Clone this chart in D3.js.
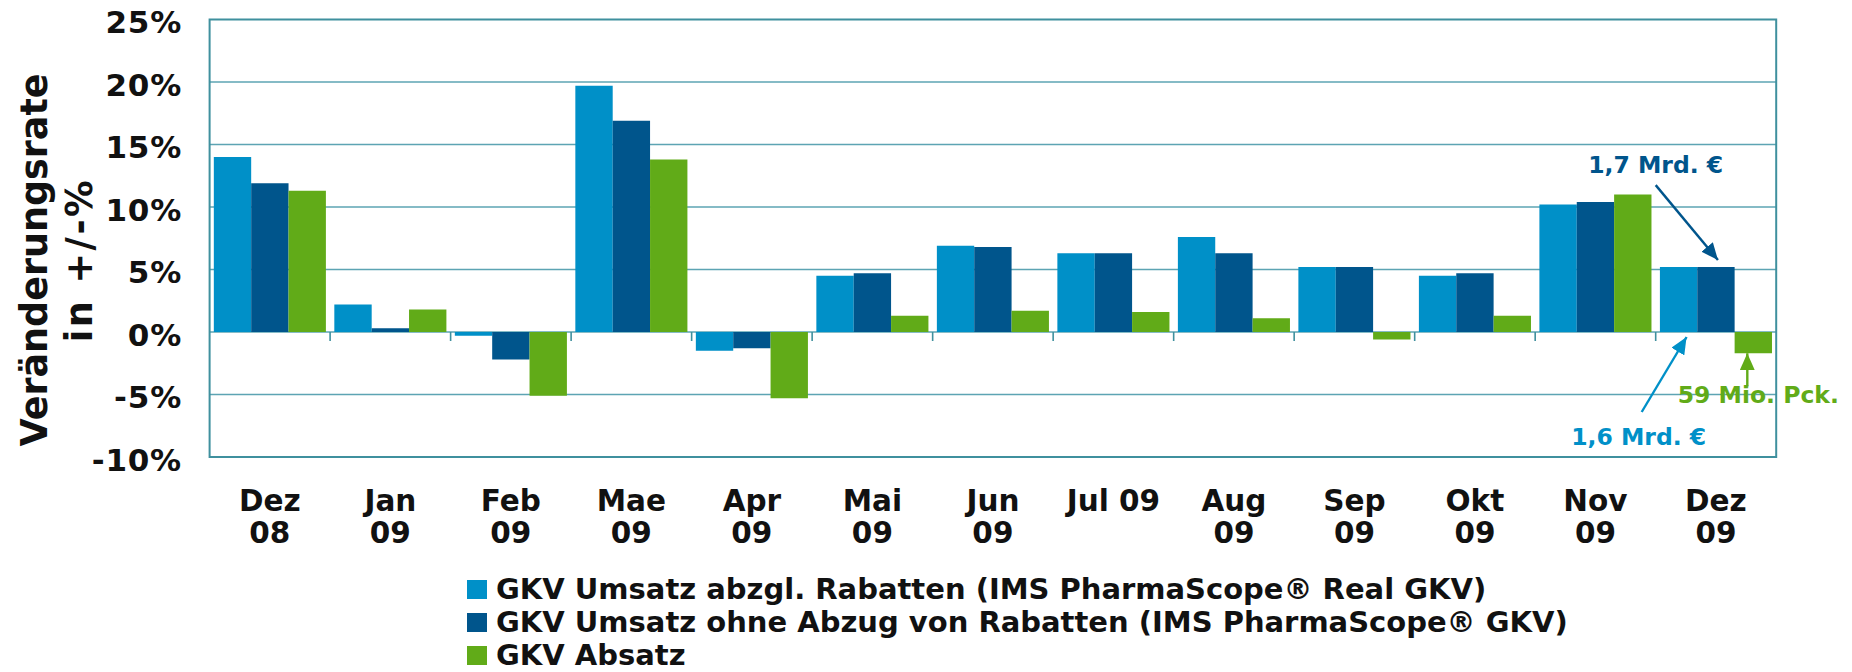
<!DOCTYPE html>
<html>
<head>
<meta charset="utf-8">
<script src="https://cdn.jsdelivr.net/npm/d3@7"></script>
<style>
  html, body { margin: 0; padding: 0; background: #fff; }
  svg text { font-family: "DejaVu Sans", Verdana, sans-serif; font-weight: bold; fill: #111; }
</style>
</head>
<body>
<svg id="chart" width="1852" height="672"></svg>
<script>
/* GKV Veränderungsrate Dez 08 – Dez 09, grouped bars */
var months = ["Dez 08", "Jan 09", "Feb 09", "Mae 09", "Apr 09", "Mai 09", "Jun 09",
              "Jul 09", "Aug 09", "Sep 09", "Okt 09", "Nov 09", "Dez 09"];
var monthLines = [["Dez", "08"], ["Jan", "09"], ["Feb", "09"], ["Mae", "09"], ["Apr", "09"],
                  ["Mai", "09"], ["Jun", "09"], ["Jul 09"], ["Aug", "09"], ["Sep", "09"],
                  ["Okt", "09"], ["Nov", "09"], ["Dez", "09"]];
var seriesNames = ["GKV Umsatz abzgl. Rabatten (IMS PharmaScope® Real GKV)",
                   "GKV Umsatz ohne Abzug von Rabatten (IMS PharmaScope® GKV)",
                   "GKV Absatz"];
var umsatzReal   = [14.0, 2.2, -0.3, 19.7, -1.5, 4.5, 6.9, 6.3, 7.6, 5.2, 4.5, 10.2, 5.2];
var umsatzBrutto = [11.9, 0.3, -2.2, 16.9, -1.3, 4.7, 6.8, 6.3, 6.3, 5.2, 4.7, 10.4, 5.2];
var absatz       = [11.3, 1.8, -5.1, 13.8, -5.3, 1.3, 1.7, 1.6, 1.1, -0.6, 1.3, 11.0, -1.7];
var yTicks = [-10, -5, 0, 5, 10, 15, 20, 25];
var colors = ["#0090c8", "#00558c", "#61ab18"];

(function () {
  "use strict";
  var svg = d3.select("#chart");
  var L = 209.6, R = 1776.2, T = 19.5, B = 457;
  var grid = "#5da4b3", frame = "#3f909e";

  var series = [umsatzReal, umsatzBrutto, absatz];
  var rows = months.map(function (m, i) {
    return { month: m, lines: monthLines[i], values: series.map(function (s) { return s[i]; }) };
  });

  var x0 = d3.scaleBand().domain(months).range([L, R]).paddingInner(0.07).paddingOuter(0.035);
  var x1 = d3.scaleBand().domain(d3.range(series.length)).range([0, x0.bandwidth()]);
  var y = d3.scaleLinear().domain([-10, 25]).range([B, T]);
  var gap = x0.step() * x0.paddingInner() / 2;

  // gridlines
  svg.append("g").selectAll("line").data(yTicks.filter(function (t) { return t > -10 && t < 25; }))
    .enter().append("line")
    .attr("x1", L).attr("x2", R)
    .attr("y1", function (d) { return y(d); }).attr("y2", function (d) { return y(d); })
    .attr("stroke", grid).attr("stroke-width", 1.6);

  // ticks on the zero line between months
  svg.append("g").selectAll("line").data(months.slice(1)).enter().append("line")
    .attr("x1", function (d) { return x0(d) - gap; }).attr("x2", function (d) { return x0(d) - gap; })
    .attr("y1", y(0)).attr("y2", y(0) + 9)
    .attr("stroke", frame).attr("stroke-width", 1.6);

  // bars
  var groups = svg.append("g").selectAll("g").data(rows).enter().append("g")
    .attr("transform", function (d) { return "translate(" + x0(d.month) + ",0)"; });
  groups.selectAll("rect").data(function (d) { return d.values; }).enter().append("rect")
    .attr("x", function (d, i) { return x1(i); })
    .attr("width", x1.bandwidth())
    .attr("y", function (d) { return y(Math.max(0, d)); })
    .attr("height", function (d) { return Math.abs(y(d) - y(0)); })
    .attr("fill", function (d, i) { return colors[i]; });

  // frame
  svg.append("rect").attr("x", L).attr("y", T).attr("width", R - L).attr("height", B - T)
    .attr("fill", "none").attr("stroke", frame).attr("stroke-width", 2);

  // y axis labels
  var yAxis = d3.axisLeft(y).tickValues(yTicks).tickSize(0).tickPadding(0)
    .tickFormat(function (d) { return d + "%"; });
  var ya = svg.append("g").attr("transform", "translate(182,0)").call(yAxis);
  ya.select(".domain").remove();
  ya.selectAll("text").attr("dy", 13).style("font-size", "31px").style("letter-spacing", "0.8px")
    .style("font-family", "'DejaVu Sans', Verdana, sans-serif").style("font-weight", "bold")
    .attr("fill", "#111");

  // y title
  var yt = svg.append("text").attr("transform", "translate(0,260) rotate(-90)")
    .attr("text-anchor", "middle").style("font-size", "36.5px");
  yt.append("tspan").attr("x", 0).attr("y", 46.7).text("Veränderungsrate");
  yt.append("tspan").attr("x", 0).attr("y", 91.7).style("letter-spacing", "2.5px").text("in +/-%");

  // x labels
  var xl = svg.append("g").selectAll("text").data(rows).enter().append("text")
    .attr("text-anchor", "middle").style("font-size", "29.5px");
  xl.selectAll("tspan").data(function (d) {
    return d.lines.map(function (t) { return { t: t, m: d.month }; });
  }).enter().append("tspan")
    .attr("x", function (d) { return x0(d.m) + x0.bandwidth() / 2; })
    .attr("y", function (d, i) { return 510.7 + i * 32.6; })
    .text(function (d) { return d.t; });

  // legend
  var lg = svg.append("g").attr("transform", "translate(467,0)");
  var li = lg.selectAll("g").data(seriesNames).enter().append("g")
    .attr("transform", function (d, i) { return "translate(0," + (599 + i * 33) + ")"; });
  li.append("rect").attr("x", 0).attr("y", -19).attr("width", 20).attr("height", 19)
    .attr("fill", function (d, i) { return colors[i]; });
  li.append("text").attr("x", 29).attr("y", 0).style("font-size", "29px").text(function (d) { return d; });

  // annotations for Dez 09
  var last = months.length - 1, lm = months[last];
  function cx(s) { return x0(lm) + x1(s) + x1.bandwidth() / 2; }
  var defs = svg.append("defs");
  colors.forEach(function (c, i) {
    defs.append("marker").attr("id", "ah" + i).attr("markerUnits", "userSpaceOnUse")
      .attr("markerWidth", 17).attr("markerHeight", 15).attr("refX", 17).attr("refY", 7.5)
      .attr("orient", "auto")
      .append("path").attr("d", "M0,0L17,7.5L0,15Z").attr("fill", c);
  });
  var notes = [
    { s: 1, text: "1,7 Mrd. €", tx: x0(lm) - gap, ty: y(12.7),
      x1: x0(lm) - gap, y1: y(11.75), x2: cx(1) + 2, y2: y(umsatzBrutto[last]) - 7 },
    { s: 0, text: "1,6 Mrd. €", tx: x0(lm) - gap - 17, ty: y(-9.0),
      x1: x0(lm) - gap - 14, y1: y(-6.4), x2: cx(0) + 8, y2: y(0) + 5 },
    { s: 2, text: "59 Mio. Pck.", tx: cx(2) + 5, ty: y(-5.7),
      x1: cx(2) - 6, y1: y(-4.35), x2: cx(2) - 6, y2: y(absatz[last]) }
  ];
  var ng = svg.append("g");
  ng.selectAll("line").data(notes).enter().append("line")
    .attr("x1", function (d) { return d.x1; }).attr("y1", function (d) { return d.y1; })
    .attr("x2", function (d) { return d.x2; }).attr("y2", function (d) { return d.y2; })
    .attr("stroke", function (d) { return colors[d.s]; }).attr("stroke-width", 2.4)
    .attr("marker-end", function (d) { return "url(#ah" + d.s + ")"; });
  ng.selectAll("text").data(notes).enter().append("text")
    .attr("x", function (d) { return d.tx; }).attr("y", function (d) { return d.ty; })
    .attr("text-anchor", "middle").style("font-size", "23.5px")
    .style("fill", function (d) { return colors[d.s]; })
    .text(function (d) { return d.text; });
})();
</script>
</body>
</html>
